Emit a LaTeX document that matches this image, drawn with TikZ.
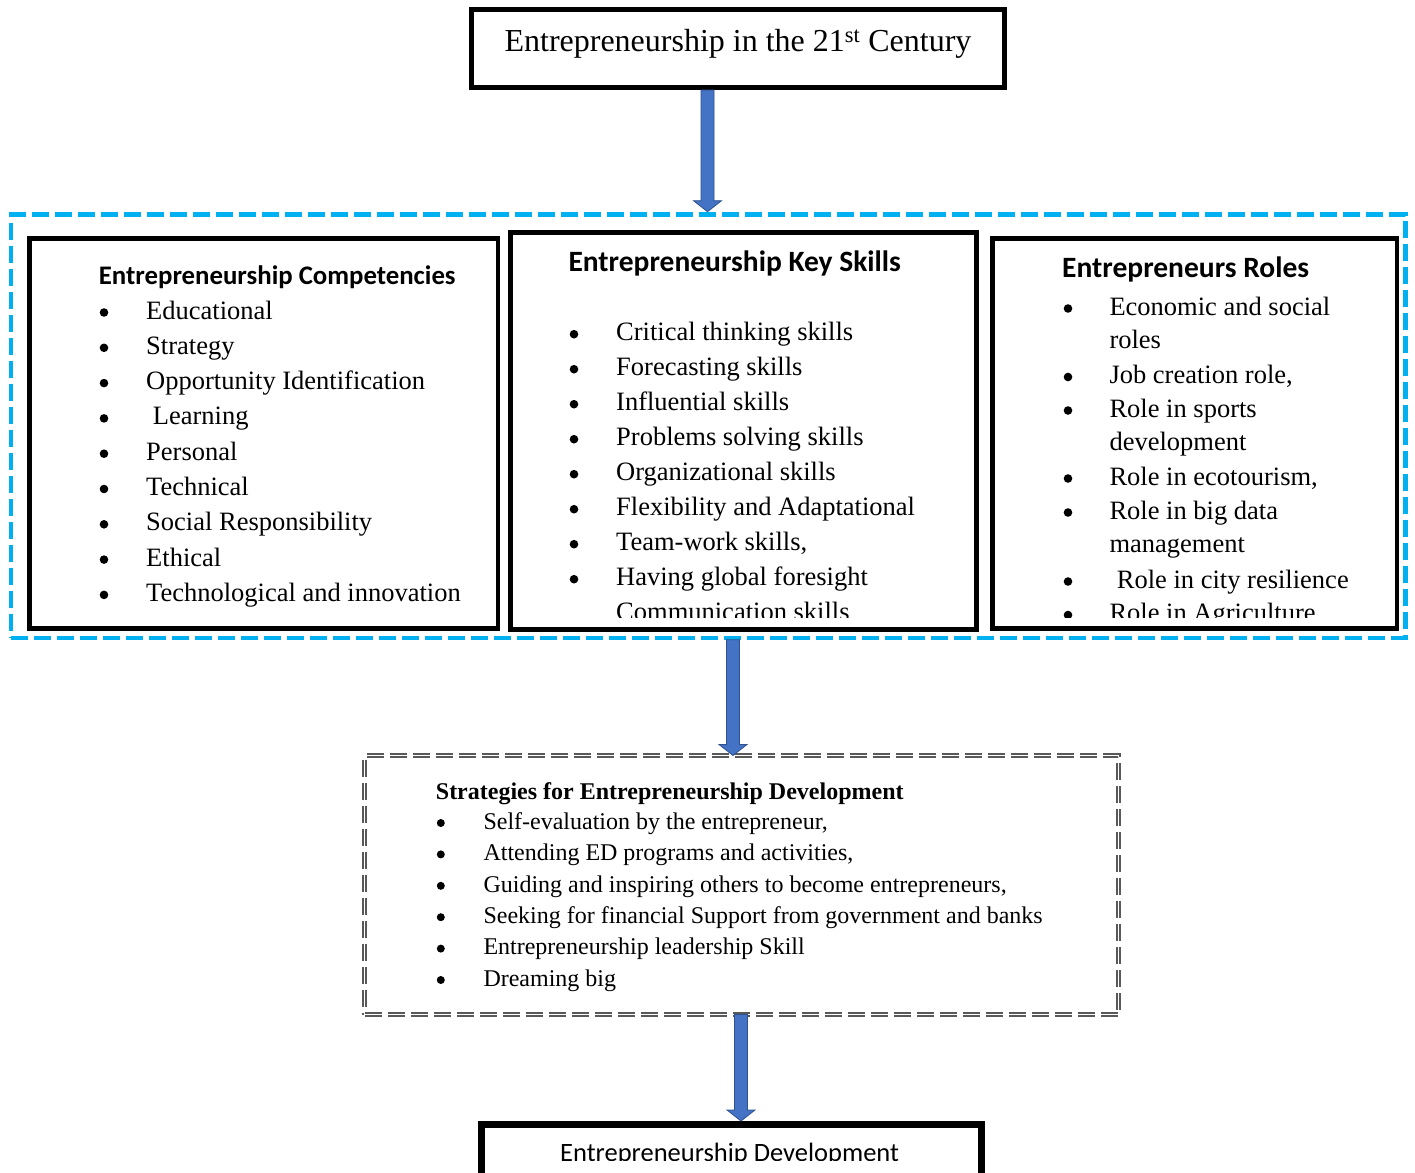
\documentclass[tikz,border=0pt]{standalone}
\usepackage{fontspec}
\setmainfont{Liberation Serif}
\newfontfamily\calfont{Carlito}
\usetikzlibrary{calc}
\definecolor{skyblue}{HTML}{00B0F0}
\definecolor{arrfill}{HTML}{4472C4}
\definecolor{arrline}{HTML}{2F528F}
\definecolor{dgray}{HTML}{595959}
\newcommand\blkarrow[2]{%
  \filldraw[fill=arrfill, draw=arrline, line width=0.8pt] let \p1=(#1), \p2=(#2) in
  (\x1-6.5pt,\y1) -- (\x1+6.5pt,\y1) -- (\x1+6.5pt,\y2+11pt) -- (\x1+14pt,\y2+11pt)
  -- (\x1,\y2) -- (\x1-14pt,\y2+11pt) -- (\x1-6.5pt,\y2+11pt) -- cycle;}
\begin{document}
\begin{tikzpicture}[x=1pt,y=-1pt,
  box/.style={draw, rectangle, inner sep=0pt, outer sep=0pt},
  itm/.style={anchor=base west, inner sep=0pt, font=\fontsize{26.5}{30}\selectfont},
  sitm/.style={anchor=base west, inner sep=0pt, font=\fontsize{24}{28}\selectfont},
  ttl/.style={anchor=base west, inner sep=0pt, font=\calfont\bfseries\fontsize{26.8}{30}\selectfont},
  bttl/.style={anchor=base west, inner sep=0pt, font=\calfont\bfseries\fontsize{29.5}{33}\selectfont}]
\clip (0,0) rectangle (1415,1172);
\fill[white] (0,0) rectangle (1415,1172);

% boxes
\node[box, line width=5pt, minimum width=533pt, minimum height=78pt] (top) at (738,48.5) {};
\node[box, draw=skyblue, line width=4.5pt, dash pattern=on 17pt off 6pt,
      minimum width=1394.5pt, minimum height=423.1pt] (mid) at (708.25,426.25) {};
\node[box, line width=4.5pt, minimum width=468.3pt, minimum height=390.1pt] (comp) at (263.65,433.35) {};
\node[box, line width=5pt, minimum width=466pt, minimum height=396.7pt] (skill) at (743.8,430.85) {};
\node[box, line width=4.7pt, minimum width=404.7pt, minimum height=390.1pt] (role) at (1194.65,433.35) {};
\node[box, draw=dgray, line width=1.4pt, double=white, double distance=1.8pt,
      dash pattern=on 17pt off 6pt, minimum width=754pt, minimum height=259pt] (strat) at (741.5,885) {};
\node[box, line width=7pt, minimum width=500pt, minimum height=76pt] (bot) at (731.5,1162) {};

% arrows
\coordinate (a1s) at ($(top.south -| 707.5,0)+(0,2.5)$);
\coordinate (a1e) at ($(mid.north -| 707.5,0)+(0,-3)$);
\coordinate (a2s) at ($(mid.south -| 733,0)+(0,2)$);
\coordinate (a2e) at (strat.north -| 733,0);
\coordinate (a3s) at (strat.south -| 741,0);
\coordinate (a3e) at ($(bot.north -| 741,0)+(0,-3)$);
\blkarrow{a1s}{a1e}
\blkarrow{a2s}{a2e}
\blkarrow{a3s}{a3e}

% top text
\node[anchor=base, inner sep=0pt, font=\fontsize{32}{36}\selectfont] (toptxt) at (738,51.5)
  {Entrepreneurship in the 21\textsuperscript{st} Century};

% box 1
\node[ttl] (compt) at (98.7,284.5) {Entrepreneurship Competencies};
\foreach \xx/\t [count=\i] in {146/Educational, 146/Strategy, 146/Opportunity Identification,
  152.7/Learning, 146/Personal, 146/Technical, 146/Social Responsibility, 146/Ethical,
  146/Technological and innovation} {
  \node[itm] (c\i) at (\xx,{319+35.3*(\i-1)}) {\t};
  \fill (104,{312.5+35.3*(\i-1)}) circle (4.3pt);
}

% box 2
\node[bttl] (skillt) at (568.3,271.7) {Entrepreneurship Key Skills};
\begin{scope}
\clip (513,235) rectangle (974.5,617);
\foreach \t [count=\i] in {Critical thinking skills, Forecasting skills, Influential skills,
  Problems solving skills, Organizational skills, Flexibility and Adaptational,
  Team-work skills{,}, Having global foresight} {
  \node[itm] (s\i) at (616,{340.7+35*(\i-1)}) {\t};
  \fill (574,{334.2+35*(\i-1)}) circle (4.3pt);
}
\node[itm] (s9) at (616,620.7) {Communication skills};
\end{scope}

% box 3
\node[bttl] (rolet) at (1062,277.2) {Entrepreneurs Roles};
\begin{scope}
\clip (994,240) rectangle (1395,617);
\node[itm] (r1) at (1109.3,315) {Economic and social};
\node[itm] (r1b) at (1109.3,348) {roles};
\node[itm] (r2) at (1109.3,383.5) {Job creation role,};
\node[itm] (r3) at (1109.3,417) {Role in sports};
\node[itm] (r3b) at (1109.3,450) {development};
\node[itm] (r4) at (1109.3,485) {Role in ecotourism,};
\node[itm] (r5) at (1109.3,519) {Role in big data};
\node[itm] (r5b) at (1109.3,552.5) {management};
\node[itm] (r6) at (1116.7,588) {Role in city resilience};
\node[itm] (r7) at (1109.3,621.5) {Role in Agriculture};
\foreach \yy in {315,383.5,417,485,519,588,621.5}
  \fill (1068,\yy-6.5) circle (4.3pt);
\end{scope}

% strategies
\node[anchor=base west, inner sep=0pt, font=\bfseries\fontsize{24}{28}\selectfont] (stratt) at (435.7,799.3)
  {Strategies for Entrepreneurship Development};
\foreach \t [count=\i] in {Self-evaluation by the entrepreneur{,}, Attending ED programs and activities{,},
  Guiding and inspiring others to become entrepreneurs{,},
  Seeking for financial Support from government and banks,
  Entrepreneurship leadership Skill, Dreaming big} {
  \node[sitm] (g\i) at (483.3,{829.3+31.4*(\i-1)}) {\t};
  \fill (440.8,{823+31.4*(\i-1)}) circle (4pt);
}

% bottom
\begin{scope}
\clip (486,1128) rectangle (977,1160.5);
\node[anchor=base west, inner sep=0pt, font=\calfont\fontsize{26.5}{30}\selectfont] (bottxt) at (560,1161.5)
  {Entrepreneurship Development};
\end{scope}
\end{tikzpicture}
\end{document}
